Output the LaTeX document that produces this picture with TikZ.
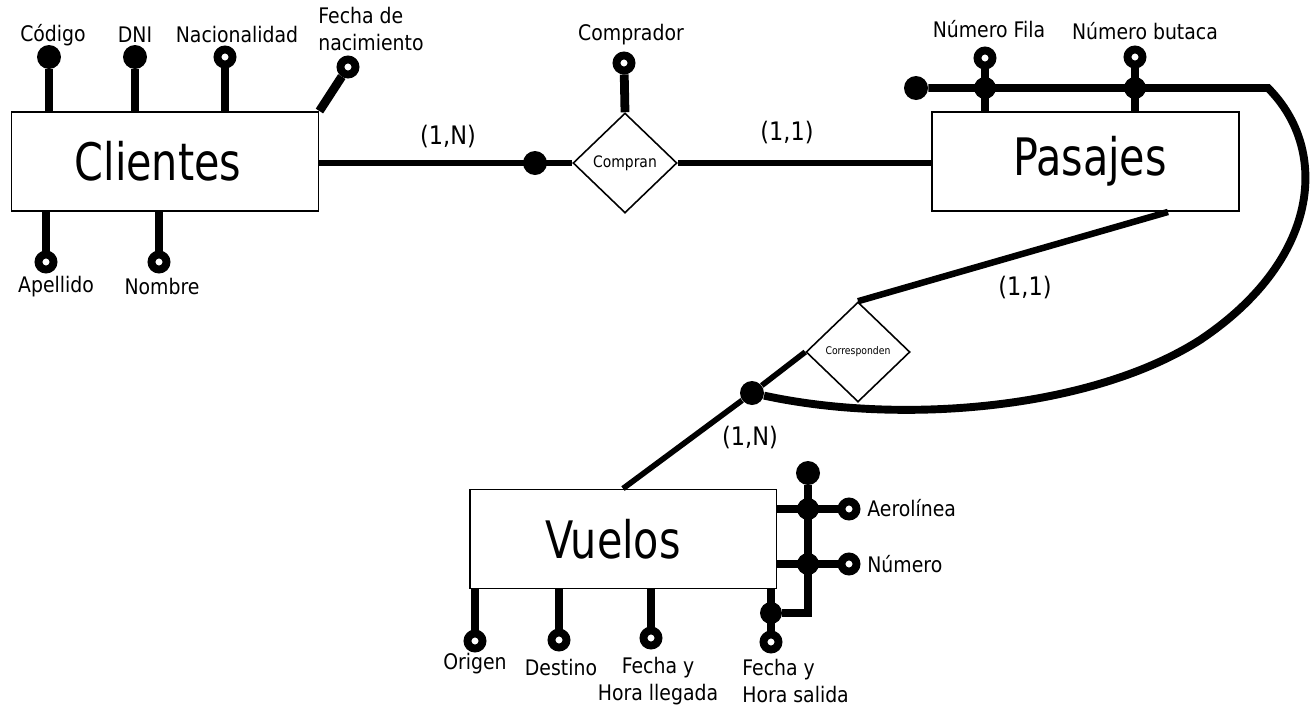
\documentclass[tikz,border=0pt]{standalone}
\usepackage{fontspec}
\setmainfont[FakeStretch=0.88]{DejaVu Sans}
\newfontfamily\bigfont[FakeStretch=0.8]{DejaVu Sans}
\usetikzlibrary{shapes.geometric}

\tikzset{
  entidad/.style={draw, line width=1.1pt, minimum width=6.14cm, minimum height=1.98cm,
    inner sep=0pt, font=\bigfont\fontsize{29.4}{32}\selectfont},
  relacion/.style={draw, diamond, line width=0.9pt, fill=white, minimum width=2.08cm,
    minimum height=2cm, inner sep=0pt},
  clave/.style={circle, fill, inner sep=0pt, minimum size=0.48cm},
  union/.style={circle, fill, inner sep=0pt, minimum size=0.44cm},
  atrib/.style={circle, draw, fill=white, line width=4.5pt, inner sep=0pt, minimum size=0.3cm},
  etiq/.style={font=\fontsize{12.2}{15.4}\selectfont, inner sep=0pt},
  card/.style={font=\fontsize{14.5}{17}\selectfont, inner sep=0pt},
  tallo/.style={line width=5pt},
  rel/.style={line width=3.7pt},
  comp/.style={line width=4.5pt},
}

\begin{document}
\begin{tikzpicture}[x=0.02cm, y=-0.02cm]
\useasboundingbox (0,0) rectangle (1313,711);

% entidades y relaciones
\node[entidad] (cli) at (165,161.5) {Clientes\kern0.28cm};
\node[entidad] (pas) at (1085.5,161.5) {\kern0.18cm Pasajes};
\node[entidad] (vue) at (623,539) {Vuelos\kern0.4cm};
\node[relacion, font=\fontsize{9}{10}\selectfont] (com) at (625,163) {Compran};
\node[relacion, font=\fontsize{6}{7}\selectfont] (cor) at (858,352) {Corresponden};

% Clientes
\node[clave] (cod) at (49,57) {};
\node[clave] (dni) at (135,57) {};
\node[atrib] (nac) at (225,57) {};
\node[atrib] (fna) at (348,67) {};
\node[atrib] (ape) at (46,262) {};
\node[atrib] (nom) at (159,262) {};
\draw[tallo] (cod) -- (cod |- cli.north);
\draw[tallo] (dni) -- (dni |- cli.north);
\draw[tallo] (nac) -- (nac |- cli.north);
\draw[tallo] (fna) -- (cli.north east);
\draw[tallo] (ape) -- (ape |- cli.south);
\draw[tallo] (nom) -- (nom |- cli.south);
\node[etiq] (lcod) at (53,35) {Código};
\node[etiq] (ldni) at (135,35) {DNI};
\node[etiq] (lnac) at (237,35) {Nacionalidad};
\node[etiq, anchor=west, align=left] (lfna) at (318,29) {Fecha de\\nacimiento};
\node[etiq] (lape) at (56,287) {Apellido};
\node[etiq] (lnom) at (162,287) {Nombre};

% Compran
\draw[rel] (cli.east |- com.west) -- (com.west);
\draw[rel] (com.east) -- (pas.west |- com.east);
\node[clave] (kcom) at (535,163) {};
\node[atrib] (cpr) at (624,63) {};
\draw[tallo] (cpr) -- (com.north);
\node[etiq] (lcpr) at (631,35) {Comprador};
\node[card] (c1) at (448,137) {(1,N)};
\node[card] (c2) at (787,133) {(1,1)};

% Pasajes
\node[clave] (kpas) at (916,88) {};
\node[atrib] (fil) at (985,58) {};
\node[atrib] (but) at (1135,57) {};
\draw[tallo] (fil) -- (fil |- pas.north);
\draw[tallo] (but) -- (but |- pas.north);
\node[union] (jfil) at (985,88) {};
\node[union] (jbut) at (1135,88) {};
\node[etiq] (lfil) at (989,29) {Número Fila};
\node[etiq] (lbut) at (1145,31) {Número butaca};

% Corresponden
\node[clave] (kvue) at (752,393) {};
\coordinate (esq) at (1268,88);
\draw[comp] (kpas) -- (esq) .. controls (1330,150) and (1320,260) .. (1200,340)
  .. controls (1090,410) and (900,425) .. (kvue);
\draw[rel] ([xshift=1.65cm]pas.south) -- (cor.north);
\draw[line width=3.2pt] (cor.west) -- (kvue) -- (vue.north);
\node[card] (c3) at (1025,288) {(1,1)};
\node[card] (c4) at (750,438) {(1,N)};

% Vuelos
\node[clave] (kvu) at (808,473) {};
\node[atrib] (aer) at (849,509) {};
\node[atrib] (num) at (849,564) {};
\node[atrib] (sal) at (771,642) {};
\coordinate (codo) at (808,613);
\draw[tallo] (vue.east |- aer) -- (aer);
\draw[tallo] (vue.east |- num) -- (num);
\draw[tallo] (sal) -- (sal |- vue.south);
\node[union] (jsal) at (771,613) {};
\draw[comp] (kvu) -- (codo) -- (jsal);
\node[union] (jaer) at (808,509) {};
\node[union] (jnum) at (808,564) {};
\node[atrib] (ori) at (475,641) {};
\node[atrib] (des) at (559,640) {};
\node[atrib] (lle) at (651,638) {};
\draw[tallo] (ori) -- (ori |- vue.south);
\draw[tallo] (des) -- (des |- vue.south);
\draw[tallo] (lle) -- (lle |- vue.south);
\node[etiq, anchor=west] (laer) at (867,508) {Aerolínea};
\node[etiq, anchor=west] (lnum) at (867,564) {Número};
\node[etiq] (lori) at (475,664) {Origen};
\node[etiq] (ldes) at (561,667) {Destino};
\node[etiq, align=center] (llle) at (658,681) {Fecha y\\Hora llegada};
\node[etiq, anchor=west, align=left] (lsal) at (742,681) {Fecha y\\Hora salida};

\end{tikzpicture}
\end{document}
